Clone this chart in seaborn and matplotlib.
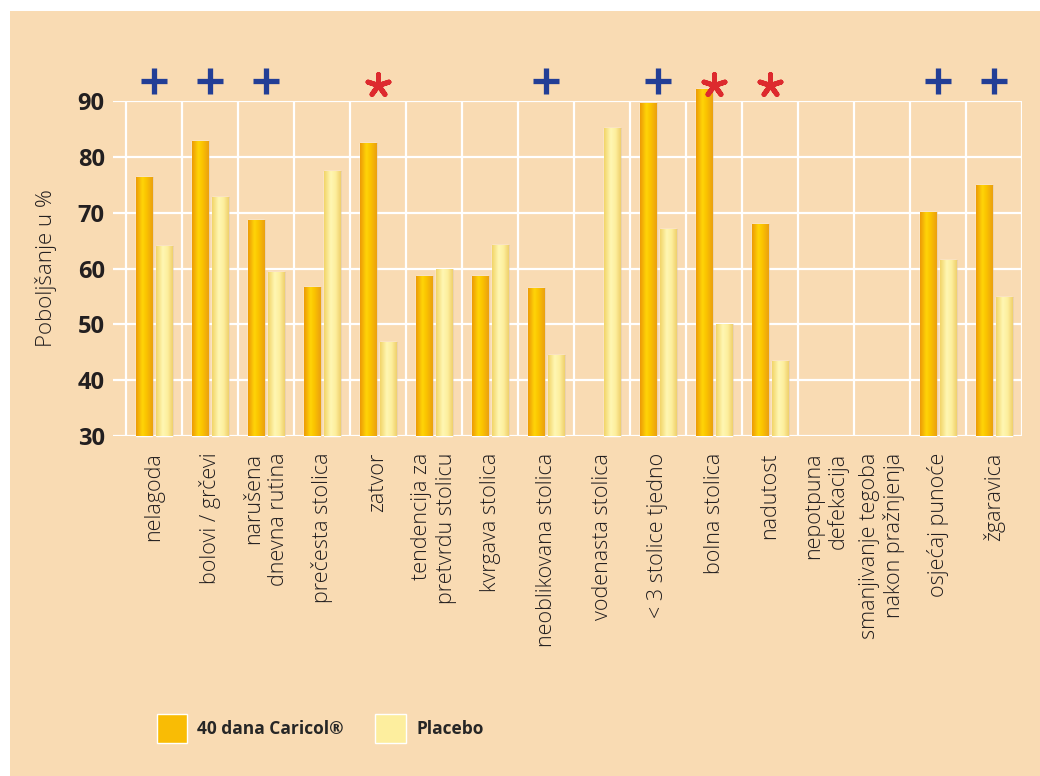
import numpy as np
import pandas as pd
import seaborn as sns
import matplotlib.pyplot as plt
from matplotlib.patches import Rectangle
from matplotlib.colors import LinearSegmentedColormap

categories = ["nelagoda", "bolovi / grčevi", "narušena\ndnevna rutina", "prečesta stolica",
              "zatvor", "tendencija za\npretvrdu stolicu", "kvrgava stolica",
              "neoblikovana stolica", "vodenasta stolica", "< 3 stolice tjedno",
              "bolna stolica", "nadutost", "nepotpuna\ndefekacija",
              "smanjivanje tegoba\nnakon pražnjenja", "osjećaj punoće", "žgaravica"]
caricol = [76.4, 82.9, 68.7, 56.7, 82.4, 58.7, 58.7, 56.5, np.nan, 89.7,
           92.2, 67.9, np.nan, np.nan, 70.1, 74.9]
placebo = [64.1, 72.8, 59.3, 77.5, 46.8, 59.9, 64.2, 44.5, 85.2, 67.1,
           50.0, 43.4, np.nan, np.nan, 61.5, 54.9]
# significance marks above each category
signif = ["+", "+", "+", "", "*", "", "", "+", "", "+", "*", "*", "", "", "+", "+"]
series_names = ["40 dana Caricol®", "Placebo"]
y_ticks = [30, 40, 50, 60, 70, 80, 90]

BG = "#F9DBB3"
ORANGE = "#F9BC05"
PALE = "#FDEE9E"

df = pd.DataFrame({
    "kat": categories * 2,
    "grupa": [series_names[0]] * len(categories) + [series_names[1]] * len(categories),
    "vrijednost": caricol + placebo,
})

sns.set_theme(style="white")
plt.rcParams["font.family"] = ["Open Sans", "DejaVu Sans"]

fig = plt.figure(figsize=(10.4, 7.76), dpi=100, facecolor="white")
fig.add_artist(Rectangle((10 / 1040, 0), 1, 1 - 11 / 776, transform=fig.transFigure,
                         facecolor=BG, edgecolor="none", zorder=-10))
ax = fig.add_axes([113 / 1040, 1 - 436 / 776, 909 / 1040, 335 / 776])
ax.set_facecolor(BG)

sns.barplot(data=df, x="kat", y="vrijednost", hue="grupa", order=categories,
            hue_order=series_names, palette=[ORANGE, PALE], saturation=1,
            width=0.72, gap=0.2, errorbar=None, ax=ax, zorder=3)

ax.set_ylim(30, 90)
ax.set_xlim(-0.5 - 13 / 56, 15.5)


def shade_bars(bars, stops):
    # horizontal gradient on each bar, bars start at the 30 baseline
    cmap = LinearSegmentedColormap.from_list("g", stops)
    grad = np.linspace(0, 1, 64).reshape(1, -1)
    for bar in bars:
        h = bar.get_height()
        if np.isnan(h) or h <= 0:
            continue
        bar.set_y(30)
        bar.set_height(h - 30)
        bar.set_clip_on(False)
        x0, w = bar.get_x(), bar.get_width()
        # soft shadow on the right
        ax.add_patch(Rectangle((x0 + w * 0.12, 30), w, h - 30, facecolor="#B08A5A",
                               alpha=0.25, edgecolor="none", zorder=2.5, clip_on=False))
        im = ax.imshow(grad, cmap=cmap, extent=[x0, x0 + w, 30, h], aspect="auto",
                       origin="lower", zorder=3.1, interpolation="bicubic")
        im.set_clip_path(bar)


shade_bars(ax.containers[0], [(0, "#EC9A06"), (0.38, "#FFD508"), (0.62, "#FBC300"), (1, "#EBA010")])
shade_bars(ax.containers[1], [(0, "#F2D468"), (0.4, "#FFF7B4"), (0.7, "#FDEE9C"), (1, "#EFD06C")])
ax.set_ylim(30, 90)
ax.set_xlim(-0.5 - 13 / 56, 15.5)

# significance markers
for i, s in enumerate(signif):
    if s == "+":
        ax.scatter(i, 93.6, marker="+", s=340, linewidths=3.8, color="#233E96",
                   clip_on=False, zorder=5)
    elif s == "*":
        ax.scatter(i, 92.9, marker=(5, 2, 0), s=250, linewidths=3.6, color="#DD2A2E",
                   clip_on=False, zorder=5)

# grid and ticks
ax.set_yticks(y_ticks)
ax.set_xticks(range(len(categories)))
ax.set_xticks(np.arange(-0.5, len(categories), 1), minor=True)
ax.set_xticklabels(categories, rotation=90, fontsize=15.5, fontweight="light", color="#231F20")
for lbl in ax.get_xticklabels():
    lbl.set_multialignment("right")
ax.set_yticklabels([str(v) for v in y_ticks], fontsize=17, fontweight="bold", color="#231F20")
ax.yaxis.grid(True, color="white", linewidth=1.6, zorder=1)
ax.xaxis.grid(True, which="minor", color="white", linewidth=1.6, zorder=1)
ax.xaxis.grid(False, which="major")
ax.set_axisbelow(True)
ax.tick_params(axis="x", which="major", length=0, pad=12)
ax.tick_params(axis="x", which="minor", length=10, width=1.6, color="white", direction="out")
ax.tick_params(axis="y", length=0, pad=6)
for sp in ax.spines.values():
    sp.set_visible(False)

ax.set_xlabel("")
ax.set_ylabel("Poboljšanje u %", fontsize=16, fontweight="light", color="#231F20")
ax.yaxis.set_label_coords(-0.062, 0.5)

sns.move_legend(ax, "lower left", bbox_to_anchor=(148 / 1040, 1 - 752 / 776),
                bbox_transform=fig.transFigure, ncol=2, frameon=False, title=None,
                prop={"weight": "bold", "size": 12.5}, handlelength=1.75, handleheight=2.2,
                handletextpad=0.6, columnspacing=1.8, borderpad=0)

fig.savefig("out.png", dpi=100, facecolor="white")
